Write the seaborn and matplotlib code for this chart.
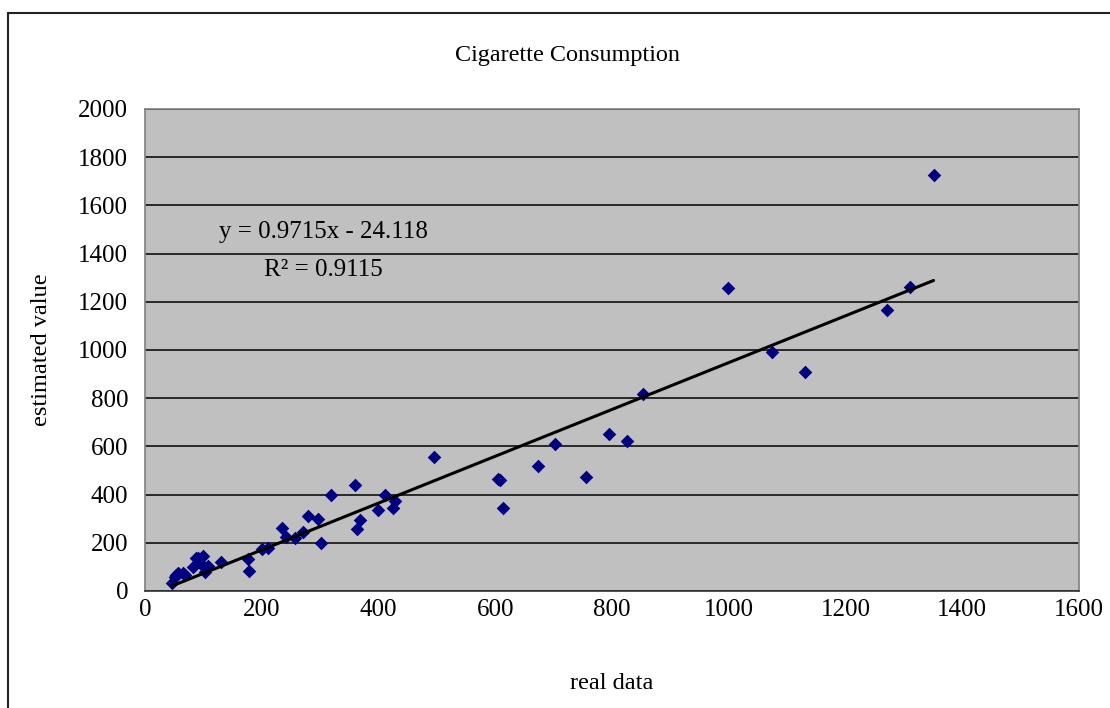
import matplotlib
matplotlib.use("Agg")
import matplotlib.pyplot as plt
import seaborn as sns
import pandas as pd
from matplotlib.patches import Rectangle

# Observed vs. estimated cigarette consumption
real_data = [46, 51, 54, 57, 66, 68, 83, 88, 90, 97,
             99, 103, 108, 131, 176, 178, 200, 211, 234, 241,
             257, 270, 279, 296, 301, 318, 359, 364, 368, 400,
             411, 425, 428, 496, 604, 609, 613, 674, 702, 756,
             795, 825, 854, 998, 1074, 1131, 1271, 1311, 1351]
estimated = [32, 59, 66, 73, 73, 66, 101, 136, 136, 108,
             145, 80, 105, 122, 132, 84, 173, 180, 260, 225,
             221, 246, 311, 299, 198, 398, 438, 257, 295, 337,
             398, 343, 372, 557, 465, 460, 343, 519, 610, 472,
             650, 624, 817, 1256, 990, 910, 1167, 1263, 1726]

# Linear trend line coefficients
slope = 0.9715
intercept = -24.118
r_squared = 0.9115

x_ticks = [0, 200, 400, 600, 800, 1000, 1200, 1400, 1600]
y_ticks = [0, 200, 400, 600, 800, 1000, 1200, 1400, 1600, 1800, 2000]

sns.set_style("white")
plt.rcParams["font.family"] = ["Liberation Serif", "DejaVu Serif"]
plt.rcParams["text.color"] = "black"
plt.rcParams["axes.labelcolor"] = "black"
plt.rcParams["xtick.color"] = "black"
plt.rcParams["ytick.color"] = "black"

df = pd.DataFrame({"real data": real_data, "estimated value": estimated})

fig = plt.figure(figsize=(11.1, 7.08), dpi=100)
ax = fig.add_axes([0.1306, 0.1653, 0.8414, 0.6808])
ax.set_facecolor("#C0C0C0")

# outer chart frame
fig.patches.append(Rectangle((8 / 1110, -0.05), 1.2, 1 - 13 / 708 + 0.05,
                             transform=fig.transFigure, fill=False,
                             edgecolor="#222222", linewidth=1.5, zorder=0))

ax.set_xlim(0, 1600)
ax.set_ylim(0, 2000)
ax.set_xticks(x_ticks)
ax.set_yticks(y_ticks)
ax.grid(axis="y", color="black", linewidth=1.1)
ax.grid(axis="x", visible=False)
ax.set_axisbelow(True)

sns.scatterplot(data=df, x="real data", y="estimated value", ax=ax,
                marker="D", s=48, color="#000080", linewidth=0, zorder=3)

x0, x1 = min(real_data), max(real_data)
ax.plot([x0, x1], [slope * x0 + intercept, slope * x1 + intercept],
        color="black", linewidth=2.2, zorder=4)

for side in ["top", "right", "left"]:
    ax.spines[side].set_color("#808080")
    ax.spines[side].set_linewidth(1.2)
ax.spines["bottom"].set_color("#333333")
ax.spines["bottom"].set_linewidth(1.2)

ax.tick_params(axis="x", direction="in", length=7, width=1, color="#555555",
               labelsize=18, pad=6)
ax.tick_params(axis="y", direction="in", length=5, width=1, color="#555555",
               labelsize=18, pad=12)

ax.set_xlabel("real data", fontsize=17.5, labelpad=37)
ax.set_ylabel("estimated value", fontsize=17.5, labelpad=19)
fig.text(0.511, 0.922, "Cigarette Consumption", ha="center", va="center",
         fontsize=17.4)

eq_sign = "-" if intercept < 0 else "+"
ax.text(305, 1490, f"y = {slope}x {eq_sign} {abs(intercept)}", ha="center",
        va="center", fontsize=18)
ax.text(305, 1332, f"R² = {r_squared}", ha="center", va="center", fontsize=18)

fig.savefig("out.png", dpi=100)
